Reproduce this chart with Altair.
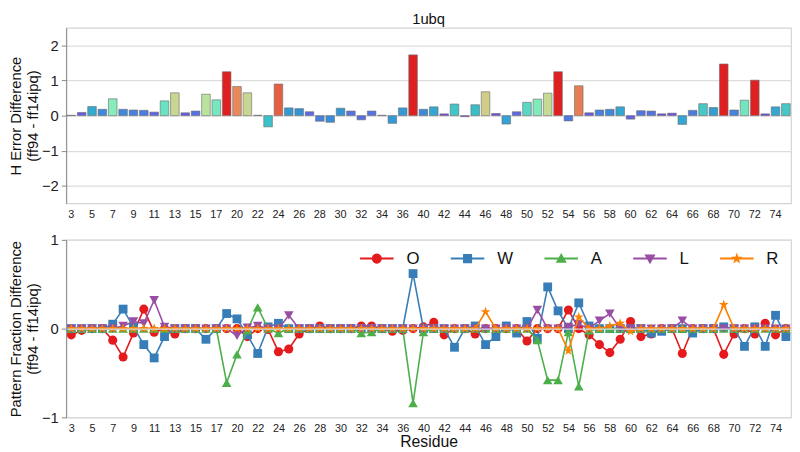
import colorsys
import math

import altair as alt
import pandas as pd

# ---------------- data ----------------
residues = list(range(3, 19)) + list(range(20, 37)) + list(range(39, 76))

h_error = [
    0.01, 0.09, 0.26, 0.18, 0.48, 0.18, 0.16, 0.15, 0.10, 0.42, 0.65, 0.08, 0.13, 0.61, 0.45, 1.25,
    0.83, 0.65, 0.01, -0.32, 0.90, 0.22, 0.20, 0.11, -0.16, -0.19, 0.21, 0.13, -0.12, 0.13, 0.01, -0.22, 0.22,
    1.73, 0.18, 0.25, 0.05, 0.33, -0.03, 0.31, 0.68, 0.06, -0.24, 0.11, 0.38, 0.47, 0.64, 1.25, -0.15, 0.85,
    0.08, 0.16, 0.18, 0.25, -0.10, 0.14, 0.13, 0.05, 0.07, -0.25, 0.15, 0.34, 0.23, 1.47, 0.16, 0.44, 1.01,
    0.05, 0.25, 0.34,
]

pattern_O = [
    -0.07, -0.02, 0.0, 0.0, -0.13, -0.32, -0.05, 0.22, -0.04, 0.0, -0.06, 0.0, 0.0, 0.0, 0.0, 0.0,
    0.0, -0.09, 0.0, -0.01, -0.26, -0.23, -0.06, 0.0, 0.03, 0.0, 0.0, 0.0, 0.03, 0.03, 0.0, -0.03, -0.02,
    0.0, 0.02, 0.07, -0.07, 0.0, 0.0, -0.06, 0.0, 0.0, 0.0, 0.0, -0.14, 0.0, 0.0, 0.0, 0.21, 0.0,
    -0.07, -0.18, -0.27, -0.12, 0.08, -0.09, -0.06, 0.0, 0.0, -0.28, 0.0, 0.0, 0.0, -0.29, -0.06, 0.0, -0.06,
    0.06, -0.07, 0.0,
]
pattern_W = [
    0.0, 0.0, 0.0, 0.0, 0.05, 0.22, 0.02, -0.18, -0.33, -0.09, 0.0, 0.0, 0.0, -0.12, 0.0, 0.17,
    0.11, -0.07, -0.28, 0.02, 0.06, 0.0, 0.0, 0.0, 0.0, 0.0, 0.0, 0.0, 0.0, 0.0, 0.0, 0.0, 0.0,
    0.62, 0.0, 0.0, 0.0, -0.21, 0.0, 0.03, -0.18, -0.09, 0.03, -0.05, 0.08, -0.11, 0.47, 0.20, 0.0, 0.29,
    0.03, 0.0, 0.0, 0.0, 0.0, 0.0, -0.05, -0.03, 0.0, 0.0, -0.05, 0.0, 0.0, 0.02, 0.0, -0.20, 0.02,
    -0.20, 0.15, -0.09,
]
pattern_A = [
    0.0, 0.0, 0.0, 0.0, 0.0, 0.0, 0.0, 0.0, 0.0, 0.0, 0.0, 0.0, 0.0, 0.0, 0.0, -0.61,
    -0.29, -0.02, 0.24, 0.0, -0.05, 0.0, 0.0, 0.0, 0.0, 0.0, 0.0, 0.0, -0.05, -0.04, 0.0, 0.0, 0.0,
    -0.84, -0.04, 0.0, 0.0, 0.0, 0.0, 0.0, 0.0, 0.0, 0.0, 0.0, 0.0, -0.13, -0.58, -0.58, -0.04, -0.65,
    -0.02, 0.0, 0.0, 0.0, 0.0, 0.0, 0.0, 0.0, 0.0, 0.0, 0.0, 0.0, 0.0, 0.0, 0.0, 0.0, 0.0,
    0.0, 0.0, 0.0,
]
pattern_L = [
    0.0, 0.0, 0.0, 0.0, 0.0, 0.03, 0.08, 0.06, 0.32, 0.02, 0.0, 0.0, 0.0, 0.0, 0.0, 0.0,
    -0.08, 0.01, 0.03, 0.0, 0.0, 0.15, 0.0, 0.0, 0.0, 0.0, 0.0, 0.0, 0.0, 0.0, 0.0, 0.0, 0.0,
    0.0, 0.0, 0.0, 0.0, 0.0, 0.0, 0.0, 0.0, 0.0, 0.0, 0.0, 0.0, 0.21, 0.0, 0.0, 0.02, 0.05,
    0.0, 0.09, 0.17, 0.0, 0.0, 0.0, 0.0, 0.0, 0.0, 0.09, 0.0, 0.0, 0.0, 0.0, 0.0, 0.0, 0.0,
    0.0, 0.0, 0.0,
]
pattern_R = [
    0.0, 0.0, 0.0, 0.0, 0.0, 0.0, 0.0, 0.0, 0.0, 0.0, 0.0, 0.0, 0.0, 0.0, 0.0, 0.0,
    0.0, 0.0, 0.0, 0.0, 0.0, 0.0, 0.0, 0.0, 0.0, 0.0, 0.0, 0.0, 0.0, 0.0, 0.0, 0.0, 0.0,
    0.0, 0.0, 0.0, 0.0, 0.0, 0.0, 0.0, 0.19, 0.0, 0.0, 0.0, 0.0, 0.0, 0.0, 0.0, -0.25, 0.13,
    0.0, 0.0, 0.03, 0.06, -0.03, 0.0, 0.0, 0.0, 0.0, 0.0, 0.0, 0.0, 0.0, 0.27, 0.0, 0.0, 0.0,
    0.0, 0.0, 0.0,
]

series_names = ["O", "W", "A", "L", "R"]
series_values = [pattern_O, pattern_W, pattern_A, pattern_L, pattern_R]

# ---------------- style ----------------
FONT = "Liberation Sans"
series_colors = ["#e41a1c", "#377eb8", "#4daf4a", "#984ea3", "#ff7f00"]
STAR = ("M0,-1.1L0.247,-0.34L1.046,-0.34L0.399,0.13L0.647,0.89L0,0.42L-0.647,0.89"
        "L-0.399,0.13L-1.046,-0.34L-0.247,-0.34Z")
series_shapes = ["circle", "square", "triangle-up", "triangle-down", STAR]
series_sizes = [85, 80, 95, 95, 90]

# legend symbols: a short line with the marker on it (unit coords, all clockwise)
LINE = "M-1,-0.06H1V0.06H-1Z"
legend_shapes = [
    LINE + "M0.3,0A0.3,0.3 0 1 1 -0.3,0A0.3,0.3 0 1 1 0.3,0Z",
    LINE + "M-0.27,-0.27H0.27V0.27H-0.27Z",
    LINE + "M0,-0.33L0.33,0.25L-0.33,0.25Z",
    LINE + "M-0.33,-0.25L0.33,-0.25L0,0.33Z",
    LINE + "M0,-0.36L0.081,-0.111L0.342,-0.111L0.131,0.042L0.212,0.291L0,0.137L-0.212,0.291"
           "L-0.131,0.042L-0.342,-0.111L-0.081,-0.111Z",
]


def rainbow(x):
    r = min(1.0, abs(2 * x - 0.5))
    g = math.sin(math.pi * x)
    b = math.cos(math.pi * x / 2)
    h, l, s = colorsys.rgb_to_hls(r, g, b)
    r, g, b = colorsys.hls_to_rgb(h, l, s * 0.75)
    return "#%02x%02x%02x" % (round(r * 255), round(g * 255), round(b * 255))


cmap_domain = [i / 10 for i in range(11)]
cmap_range = [rainbow(v) for v in cmap_domain]

W = 735
label_vals = residues[::2]
grid_col = "#dddddd"
INT_LABEL = "datum.value > 0.5 ? '1' : (datum.value < -0.5 ? '\u22121' : '0')"

# ---------------- top panel ----------------
df_top = pd.DataFrame({"Residue": residues, "H": h_error})

top = (
    alt.Chart(df_top, title=alt.Title("1ubq", fontSize=15, font=FONT, fontWeight="normal",
                                      color="#111", offset=1, anchor="middle"))
    .transform_calculate(mag="abs(datum.H)")
    .mark_bar(stroke="#707070", strokeWidth=0.8, strokeOpacity=0.8)
    .encode(
        x=alt.X("Residue:O", sort=residues,
                scale=alt.Scale(paddingInner=0.17, paddingOuter=0.08),
                axis=alt.Axis(values=label_vals, title=None, labelAngle=0, labelFontSize=11,
                              labelPadding=5, ticks=False, domain=False, grid=False)),
        y=alt.Y("H:Q", scale=alt.Scale(domain=[-2.5, 2.5], nice=False, zero=False),
                axis=alt.Axis(values=[-2, -1, 0, 1, 2], format="d",
                              title=["H Error Difference", "(ff94 - ff14ipq)"],
                              grid=True, labelFontSize=15, titleFontSize=15, titlePadding=1,
                              titleLineHeight=17, labelPadding=3)),
        color=alt.Color("mag:Q", scale=alt.Scale(domain=cmap_domain, range=cmap_range, clamp=True,
                                                 interpolate="rgb"), legend=None),
    )
    .properties(width=W, height=178)
)

# ---------------- bottom panel ----------------
rows = []
for name, vals in zip(series_names, series_values):
    for r, v in zip(residues, vals):
        rows.append({"Residue": r, "series": name, "value": v})
df_bot = pd.DataFrame(rows)

x_axis = alt.Axis(values=label_vals, title="Residue", labelAngle=0, labelFontSize=11,
                  labelPadding=5, ticks=False, domain=False, grid=False,
                  titleFontSize=16, titlePadding=1)
y_axis = alt.Axis(values=[-1, 0, 1], labelExpr=INT_LABEL, grid=True, labelOverlap=False,
                  labelFlush=False, labelBound=False, zindex=2,
                  title=["Pattern Fraction Difference", "(ff94 - ff14ipq)"],
                  labelFontSize=15, titleFontSize=15, titlePadding=1, titleLineHeight=17,
                  labelPadding=3)
x_scale = alt.Scale(type="point", padding=0.495)
y_scale = alt.Scale(domain=[-1, 1], nice=False, zero=False)

layers = []
first = True
for name, col, shp, sz in zip(series_names, series_colors, series_shapes, series_sizes):
    xa = x_axis if first else None
    ya = y_axis if first else None
    first = False
    enc = dict(
        x=alt.X("Residue:O", sort=residues, scale=x_scale, axis=xa),
        y=alt.Y("value:Q", scale=y_scale, axis=ya),
    )
    enc_plain = dict(
        x=alt.X("Residue:O", sort=residues, scale=x_scale, axis=None),
        y=alt.Y("value:Q", scale=y_scale, axis=None),
    )
    base = alt.Chart(df_bot).transform_filter(alt.datum.series == name)
    layers.append(base.mark_line(color=col, strokeWidth=1.6).encode(**enc))
    layers.append(base.mark_point(color=col, shape=shp, size=sz, filled=True, opacity=1)
                  .encode(**enc_plain))

leg = alt.Legend(orient="none", legendX=298, legendY=2, direction="horizontal", columns=5,
                 title=None, symbolSize=1156, symbolStrokeWidth=0, labelFontSize=17,
                 labelFont=FONT, labelColor="#111", labelOffset=13, columnPadding=31, padding=0,
                 symbolOpacity=1)
df_leg = pd.DataFrame({"series": series_names})
legend_layer = (
    alt.Chart(df_leg)
    .mark_point(filled=True, size=1156, clip=True, opacity=1)
    .encode(
        x=alt.value(-200), y=alt.value(-200),
        color=alt.Color("series:N", sort=series_names,
                        scale=alt.Scale(domain=series_names, range=series_colors), legend=leg),
        shape=alt.Shape("series:N", sort=series_names,
                        scale=alt.Scale(domain=series_names, range=legend_shapes), legend=leg),
    )
)

bottom = (
    alt.layer(*layers, legend_layer)
    .resolve_axis(x="independent", y="independent")
    .properties(width=W, height=180)
)

chart = (
    alt.vconcat(top, bottom, spacing=12)
    .resolve_scale(color="independent", shape="independent")
    .resolve_legend(color="independent", shape="independent")
    .properties(padding={"left": 0, "top": 0, "right": 0, "bottom": 0})
    .configure(font=FONT)
    .configure_view(stroke="#d4d4d4", strokeWidth=1.2)
    .configure_axis(labelFont=FONT, titleFont=FONT, labelColor="#222", titleColor="#111",
                    titleFontWeight="normal", gridColor=grid_col, gridWidth=1.2)
)

chart.save("out.html", embed_options={"renderer": "svg", "actions": False})
